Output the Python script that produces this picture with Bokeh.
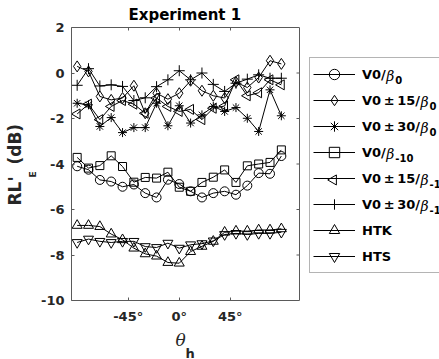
from bokeh.plotting import figure
from bokeh.models import (FixedTicker, LinearAxis, Legend, LegendItem, Range1d,
                          Title, Label, Span)
from bokeh.embed import file_html
from bokeh.resources import INLINE
import math

# Head angle (degrees)
theta = [-90, -80, -70, -60, -50, -40, -30, -20, -10, 0, 10, 20, 30, 40, 50, 60, 70, 80, 90]

# RL'_E values (dB) for each condition
v0_b0 = [-4.1, -4.25, -4.7, -4.77, -5.0, -4.9, -5.28, -5.47, -4.69, -4.88,
         -5.2, -5.47, -5.28, -5.2, -5.35, -4.95, -4.4, -4.43, -3.65]
v15_b0 = [0.29, 0.07, -1.03, -1.18, -1.1, -0.56, -1.77, -0.89, -1.15, -0.89,
          -0.34, -0.78, -1.0, -1.1, -0.4, -0.64, -0.2, 0.54, 0.4]
v30_b0 = [-1.33, -1.4, -2.35, -1.96, -2.62, -2.4, -2.4, -1.33, -2.32, -1.44,
          -2.2, -1.84, -1.47, -1.69, -1.52, -1.99, -2.57, -0.74, -1.88]
v0_b10 = [-3.71, -4.18, -4.07, -3.64, -4.11, -4.8, -4.59, -4.62, -4.36, -5.02,
          -5.2, -4.81, -4.58, -4.26, -4.81, -4.08, -4.0, -3.93, -3.38]
v15_b10 = [-1.8, -1.37, -2.05, -1.47, -1.21, -1.37, -1.77, -1.1, -1.47, -1.69,
           -1.6, -2.05, -1.55, -1.45, -0.3, -1.0, -0.87, -0.3, -0.52]
v30_b10 = [-0.54, 0.19, -0.57, -0.52, -0.59, -1.21, -1.09, -0.6, -0.3, 0.1,
           -0.3, 0.0, -0.5, -0.81, -0.45, -0.27, -0.08, -0.23, -0.23]
htk = [-6.7, -6.7, -6.75, -7.08, -7.33, -7.7, -7.95, -8.05, -8.33, -8.36,
       -7.85, -7.62, -7.4, -7.0, -6.95, -6.95, -6.9, -6.9, -6.85]
hts = [-7.45, -7.3, -7.4, -7.45, -7.4, -7.4, -7.63, -7.67, -7.48, -7.7,
       -7.55, -7.5, -7.38, -7.1, -7.05, -7.1, -7.05, -7.05, -7.0]

# legend text: plain part, then beta subscript (None = no beta)
TS = "\u2009"  # thin space around the plus-minus sign
legend_text = ["V0/", f"V0{TS}±{TS}15/", f"V0{TS}±{TS}30/", "V0/",
               f"V0{TS}±{TS}15/", f"V0{TS}±{TS}30/", "HTK", "HTS"]
beta_sub = ["0", "0", "0", "-10", "-10", "-10", None, None]

x_ticks = [-45, 0, 45]
x_tick_labels = ["-45°", "0°", "45°"]
y_ticks = [-10, -8, -6, -4, -2, 0, 2]
x_lo, x_hi = -95, 106      # axes box limits (degrees)
y_lo, y_hi = -10, 2        # axes box limits (dB)

SANS = "DejaVu Sans"
SERIF = "DejaVu Serif"
AXC = "#262626"
AXL = "#5a5a5a"

W, H = 439, 359
BOX_L, BOX_R = 71, 299     # axes box edges in pixels
BOX_T, BOX_B = 26, 300

# The frame runs on to the right edge so the legend can sit inside it;
# the x range is stretched so the axes box keeps its own scale.
frame_w = W - BOX_L
frame_h = BOX_B - BOX_T
x_end = x_lo + (x_hi - x_lo) * frame_w / (BOX_R - BOX_L)

p = figure(width=W, height=H, output_backend="svg", toolbar_location=None,
           title=None, x_range=Range1d(x_lo, x_end), y_range=Range1d(y_lo, y_hi),
           min_border_left=BOX_L, min_border_right=0, min_border_top=BOX_T,
           min_border_bottom=H - BOX_B, x_axis_location=None, y_axis_location=None)
p.outline_line_color = None
p.xgrid.visible = False
p.ygrid.visible = False
p.background_fill_color = "white"
p.border_fill_color = "white"


def style_axis(ax, ticks, overrides=None, show_labels=True):
    ax.ticker = FixedTicker(ticks=ticks)
    ax.axis_line_color = AXL
    ax.axis_line_width = 1
    ax.major_tick_line_color = AXL
    ax.major_tick_in = 3
    ax.major_tick_out = 0
    ax.minor_tick_line_color = None
    ax.major_label_text_font = SANS
    ax.major_label_text_font_style = "bold"
    ax.major_label_text_font_size = "13px" if show_labels else "0px"
    ax.major_label_text_color = AXC
    if overrides:
        ax.major_label_overrides = overrides


bottom = LinearAxis(bounds=(x_lo, x_hi))
style_axis(bottom, x_ticks, {t: s for t, s in zip(x_ticks, x_tick_labels)})
bottom.major_label_standoff = 8
p.add_layout(bottom, "below")

top = LinearAxis(bounds=(x_lo, x_hi))
style_axis(top, x_ticks, show_labels=False)
top.major_label_standoff = 0
p.add_layout(top, "above")

left = LinearAxis()
style_axis(left, y_ticks, {t: str(t) for t in y_ticks})
left.major_label_standoff = 7
p.add_layout(left, "left")

# right edge of the axes box, with inward ticks
p.add_layout(Span(location=x_hi, dimension="height", line_color=AXL, line_width=1))
tick_len = 3 * (x_end - x_lo) / frame_w
p.segment(x0=[x_hi - tick_len] * len(y_ticks), y0=y_ticks,
          x1=[x_hi] * len(y_ticks), y1=y_ticks, line_color=AXL, line_width=1)

series = [
    (v0_b0, "circle", 9, 0.0),
    (v15_b0, "diamond", 11, 0.0),
    (v30_b0, "asterisk", 9, 0.0),
    (v0_b10, "square", 8, 0.0),
    (v15_b10, "triangle", 10, math.pi / 2),   # left-pointing triangle
    (v30_b10, "cross", 11, 0.0),
    (htk, "triangle", 10, 0.0),
    (hts, "inverted_triangle", 10, 0.0),
]

LEG_X, LEG_Y = 238, 27      # legend bottom-left, from the frame's bottom-left
PAD, GW, GH, STAND = 3, 42, 26, 7
top_row = LEG_Y + PAD + GH * len(series) - GH / 2   # centre of first row


def px_to_x(px):
    return x_lo + px * (x_end - x_lo) / frame_w


def px_to_y(py):
    return y_lo + py * (y_hi - y_lo) / frame_h


items = []
for i, ((vals, marker, size, ang), lab) in enumerate(zip(series, legend_text)):
    ln = p.line(theta, vals, line_color="black", line_width=1)
    sc = p.scatter(theta, vals, marker=marker, size=size, angle=ang,
                   line_color="black", line_width=1, fill_color=None)
    if ang == 0.0:
        items.append(LegendItem(label=lab, renderers=[ln, sc]))
    else:
        # the legend swatch does not rotate markers: add the rotated key itself
        items.append(LegendItem(label=lab, renderers=[ln]))
        p.scatter([px_to_x(LEG_X + PAD + GW / 2)], [px_to_y(top_row - GH * i)],
                  marker=marker, size=size, angle=ang, line_color="black",
                  line_width=1, fill_color=None)

legend = Legend(items=items, location=(LEG_X, LEG_Y), orientation="vertical",
                glyph_width=GW, glyph_height=GH, label_height=GH,
                label_width=110, spacing=0, padding=PAD, margin=0,
                label_standoff=STAND, label_text_font=SANS,
                label_text_font_style="bold", label_text_font_size="13px",
                label_text_color="black", border_line_color="#6a6a6a",
                border_line_width=1, background_fill_color="white",
                background_fill_alpha=0.0)
p.add_layout(legend, "center")

# italic beta with its subscript after each legend entry
char_w = {"V": 0.774, "0": 0.696, "1": 0.696, "3": 0.696, "5": 0.696,
          "/": 0.365, "±": 0.838, TS: 0.2}
text_x0 = LEG_X + PAD + GW + STAND
for i, (lab, sub) in enumerate(zip(legend_text, beta_sub)):
    if sub is None:
        continue
    yc = top_row - GH * i
    bx = text_x0 + sum(char_w[c] for c in lab) * 13 + 1
    p.add_layout(Label(x=bx, y=yc, x_units="screen", y_units="screen",
                       text="β", text_font=SERIF, text_font_style="italic",
                       text_font_size="14px", text_baseline="middle",
                       text_align="left", text_color="black"))
    p.add_layout(Label(x=bx + 9, y=yc - 4, x_units="screen", y_units="screen",
                       text=sub, text_font=SANS, text_font_style="bold",
                       text_font_size="10px", text_baseline="middle",
                       text_align="left", text_color="black"))

# Title, centred over the axes box
p.title = Title(text="Experiment 1", align="left",
                offset=(BOX_R - BOX_L) / 2 - 57, text_font=SANS,
                text_font_style="bold", text_font_size="15px",
                text_color="black", standoff=7)

# y-axis label: RL'_E (dB), built from two rotated titles
p.add_layout(Title(text="E", align="left", offset=123, standoff=2,
                   text_font=SANS, text_font_style="bold",
                   text_font_size="9px", text_color=AXC), "left")
p.add_layout(Title(text="RL'\u00a0\u00a0(dB)", align="left", offset=95,
                   standoff=0, text_font=SANS, text_font_style="bold",
                   text_font_size="17px", text_color=AXC), "left")

# x-axis label: theta with subscript h
p.add_layout(Title(text="θ", align="left", offset=104, standoff=3,
                   text_font=SERIF, text_font_style="italic",
                   text_font_size="17px", text_color=AXC), "below")
p.add_layout(Title(text="h", align="left", offset=114, standoff=-16,
                   text_font=SANS, text_font_style="bold",
                   text_font_size="13px", text_color=AXC), "below")

open("out.html", "w").write(file_html(p, INLINE))
